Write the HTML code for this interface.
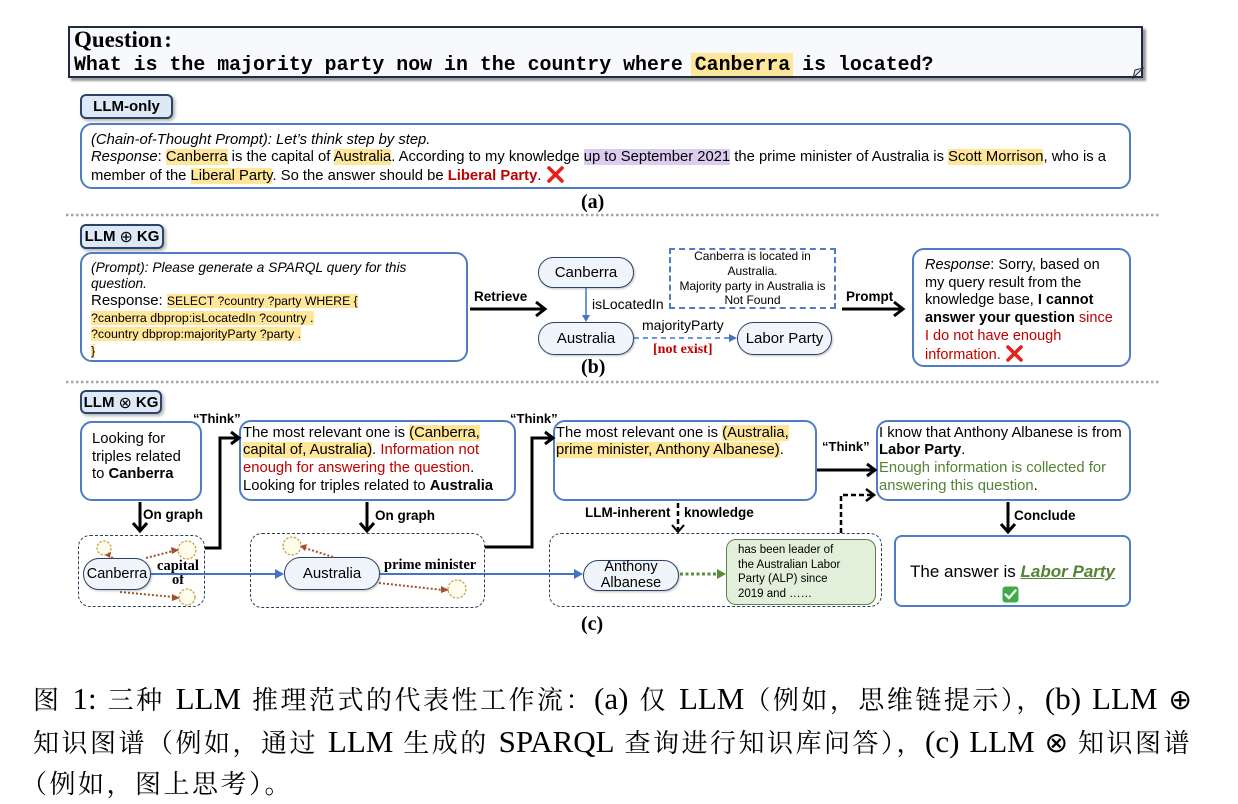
<!DOCTYPE html>
<html><head><meta charset="utf-8">
<style>
html,body{margin:0;padding:0;background:#fff;}
#pg{position:relative;width:1238px;height:804px;overflow:hidden;background:#fff;}
.t{position:absolute;white-space:nowrap;font-family:"Liberation Sans",Arial,sans-serif;color:#000;line-height:18px;font-size:14.8px;}
.box{position:absolute;box-sizing:border-box;border:2px solid #4e7cc6;border-radius:12px;background:#fff;}
.tag{position:absolute;box-sizing:border-box;border:2px solid #2c4467;border-radius:6px;background:#dde9f6;font-family:"Liberation Sans",Arial,sans-serif;font-weight:bold;font-size:15px;display:flex;align-items:center;justify-content:center;box-shadow:2px 2px 3px rgba(0,0,0,.3);}
.node{position:absolute;box-sizing:border-box;border:1.5px solid #2c4467;border-radius:17px;background:#f0f5fc;display:flex;align-items:center;justify-content:center;text-align:center;font-family:"Liberation Sans",Arial,sans-serif;font-size:15px;box-shadow:1px 1px 2px rgba(0,0,0,.25);}
.kg{position:absolute;box-sizing:border-box;border:1.5px dashed #2c3e5c;border-radius:12px;}
.hy{background:#ffe699;}
.hp{background:#dccdf0;}
.red{color:#c00000;}
.grn{color:#548235;}
.lbl{position:absolute;white-space:nowrap;font-family:"Liberation Sans",Arial,sans-serif;font-weight:bold;font-size:13.5px;line-height:16px;}
.ser{position:absolute;white-space:nowrap;font-family:"Liberation Serif","Times New Roman",serif;font-weight:bold;}
.cap{position:absolute;left:33px;width:1159px;height:43px;display:flex;justify-content:space-between;align-items:baseline;white-space:nowrap;font-family:"Liberation Serif","Noto Serif CJK SC",serif;font-size:26px;letter-spacing:2.5px;line-height:43px;color:#000;}
.cap .L{font-size:31px;letter-spacing:0;}
.cap .S{font-family:"DejaVu Sans",sans-serif;font-size:28px;font-weight:300;letter-spacing:0;}
</style></head><body><div id="pg">

<!-- Question box -->
<div style="position:absolute;left:68px;top:26px;width:1075px;height:52px;box-sizing:border-box;border:2px solid #1e2b45;background:#f8f9fc;box-shadow:3px 3px 2px rgba(0,0,0,.4);"></div>
<div class="ser" style="left:74px;top:27px;font-size:23px;line-height:26px;">Question<span style="margin-left:2px;">:</span></div>
<div style="position:absolute;left:74px;top:54px;white-space:nowrap;font-family:'Liberation Mono','Courier New',monospace;font-weight:bold;font-size:19.9px;line-height:22px;">What is the majority party now in the country where <span style="background:#fde59a;box-shadow:-4px 0 0 #fde59a,3px 0 0 #fde59a;">Canberra</span> is located?</div>

<!-- (a) -->
<div class="tag" style="left:80px;top:94px;width:93px;height:25px;">LLM-only</div>
<div class="box" style="left:80px;top:123px;width:1051px;height:66px;"></div>
<div class="t" style="left:91px;top:131px;font-size:14.8px;"><i>(Chain-of-Thought Prompt): Let’s think step by step.</i></div>
<div class="t" style="left:91px;top:148px;font-size:14.8px;"><i>Response</i>: <span class="hy">Canberra</span> is the capital of <span class="hy">Australia</span>. According to my knowledge <span class="hp">up to September 2021</span> the prime minister of Australia is <span class="hy">Scott Morrison</span>, who is a</div>
<div class="t" style="left:91px;top:166px;font-size:14.8px;">member of the <span class="hy">Liberal Party</span>. So the answer should be <b class="red">Liberal Party</b>. <svg width="19" height="17" viewBox="0 0 19 17" style="vertical-align:-3px"><path d="M3 2L16 15M16 2L3 15" stroke="#e8201c" stroke-width="3.6" stroke-linecap="round"/></svg></div>
<div class="ser" style="left:581px;top:190px;font-size:20px;line-height:24px;">(a)</div>

<!-- (b) -->
<div class="tag" style="left:80px;top:224px;width:84px;height:25px;">LLM <span style="font-weight:normal;font-family:'DejaVu Sans',sans-serif;margin:0 4px;font-size:16px;">⊕</span> KG</div>
<div class="box" style="left:80px;top:252px;width:388px;height:110px;"></div>
<div class="t" style="left:91px;top:259px;font-size:13.8px;"><i>(Prompt): Please generate a SPARQL query for this</i></div>
<div class="t" style="left:91px;top:275px;font-size:13.8px;"><i>question.</i></div>
<div class="t" style="left:91px;top:292px;font-size:15px;">Response: <span class="hy" style="font-size:12.2px;">SELECT ?country ?party WHERE {</span></div>
<div class="t" style="left:91px;top:309px;font-size:12.4px;"><span class="hy">?canberra dbprop:isLocatedIn ?country .</span></div>
<div class="t" style="left:91px;top:325px;font-size:12.4px;"><span class="hy">?country dbprop:majorityParty ?party .</span></div>
<div class="t" style="left:91px;top:342px;font-size:12.4px;"><span class="hy">}</span></div>

<div class="lbl" style="left:474px;top:289px;">Retrieve</div>
<div class="node" style="left:538px;top:257px;width:96px;height:31px;">Canberra</div>
<div class="node" style="left:538px;top:322px;width:96px;height:33px;">Australia</div>
<div class="node" style="left:737px;top:322px;width:95px;height:33px;">Labor Party</div>
<div class="t" style="left:592px;top:295px;font-size:14px;">isLocatedIn</div>
<div class="t" style="left:642px;top:316px;font-size:14px;">majorityParty</div>
<div class="ser red" style="left:653px;top:341px;font-size:14px;line-height:18px;">[not exist]</div>
<div style="position:absolute;left:669px;top:248px;width:167px;height:61px;box-sizing:border-box;border:2px dashed #4e7cc6;"></div>
<div class="t" style="left:669px;width:167px;text-align:center;top:249px;font-size:12px;line-height:14.8px;">Canberra is located in<br>Australia.<br>Majority party in Australia is<br>Not Found</div>
<div class="lbl" style="left:846px;top:289px;">Prompt</div>
<div class="box" style="left:912px;top:248px;width:219px;height:119px;"></div>
<div class="t" style="left:925px;top:256px;font-size:14.5px;"><i>Response</i>: Sorry, based on</div>
<div class="t" style="left:925px;top:274px;font-size:14.5px;">my query result from the</div>
<div class="t" style="left:925px;top:291px;font-size:14.5px;">knowledge base, <b>I cannot</b></div>
<div class="t" style="left:925px;top:309px;font-size:14.5px;"><b>answer your question</b> <span class="red">since</span></div>
<div class="t" style="left:925px;top:327px;font-size:14.5px;"><span class="red">I do not have enough</span></div>
<div class="t" style="left:925px;top:345px;font-size:14.5px;"><span class="red">information.</span> <svg width="19" height="17" viewBox="0 0 19 17" style="vertical-align:-3px"><path d="M3 2L16 15M16 2L3 15" stroke="#e8201c" stroke-width="3.6" stroke-linecap="round"/></svg></div>
<div class="ser" style="left:581px;top:355px;font-size:20px;line-height:24px;">(b)</div>

<!-- (c) -->
<div class="tag" style="left:80px;top:390px;width:82px;height:24px;">LLM <span style="font-weight:normal;font-family:'DejaVu Sans',sans-serif;margin:0 4px;font-size:16px;">⊗</span> KG</div>
<div class="box" style="left:80px;top:421px;width:122px;height:80px;"></div>
<div class="t" style="left:92px;top:430px;">Looking for</div>
<div class="t" style="left:92px;top:448px;">triples related</div>
<div class="t" style="left:92px;top:465px;">to <b>Canberra</b></div>

<div class="lbl" style="left:193px;top:411px;font-size:13px;">“Think”</div>
<div class="box" style="left:239px;top:420px;width:277px;height:81px;"></div>
<div class="t" style="left:243px;top:424px;">The most relevant one is <span class="hy">(Canberra,</span></div>
<div class="t" style="left:243px;top:441px;"><span class="hy">capital of, Australia)</span>. <span class="red">Information not</span></div>
<div class="t" style="left:243px;top:459px;"><span class="red">enough for answering the question</span>.</div>
<div class="t" style="left:243px;top:477px;">Looking for triples related to <b>Australia</b></div>

<div class="lbl" style="left:510px;top:411px;font-size:13px;">“Think”</div>
<div class="box" style="left:553px;top:420px;width:264px;height:81px;"></div>
<div class="t" style="left:556px;top:424px;">The most relevant one is <span class="hy">(Australia,</span></div>
<div class="t" style="left:556px;top:441px;"><span class="hy">prime minister, Anthony Albanese)</span>.</div>

<div class="lbl" style="left:822px;top:439px;font-size:13px;">“Think”</div>
<div class="box" style="left:876px;top:420px;width:255px;height:81px;"></div>
<div class="t" style="left:879px;top:424px;">I know that Anthony Albanese is from</div>
<div class="t" style="left:879px;top:441px;"><b>Labor Party</b>.</div>
<div class="t grn" style="left:879px;top:459px;">Enough information is collected for</div>
<div class="t" style="left:879px;top:477px;"><span class="grn">answering this question</span>.</div>

<div class="lbl" style="left:143px;top:507px;">On graph</div>
<div class="lbl" style="left:375px;top:508px;">On graph</div>
<div class="lbl" style="left:585px;top:505px;">LLM-inherent</div>
<div class="lbl" style="left:684px;top:505px;">knowledge</div>
<div class="lbl" style="left:1014px;top:508px;">Conclude</div>

<div class="kg" style="left:78px;top:535px;width:127px;height:72px;"></div>
<div class="kg" style="left:250px;top:533px;width:235px;height:75px;"></div>
<div class="kg" style="left:549px;top:533px;width:333px;height:74px;"></div>

<div class="node" style="left:83px;top:558px;width:68px;height:32px;font-size:14.5px;">Canberra</div>
<div class="node" style="left:284px;top:557px;width:96px;height:33px;">Australia</div>
<div class="node" style="left:583px;top:560px;width:96px;height:31px;font-size:14.5px;line-height:15.5px;">Anthony<br>Albanese</div>
<div class="ser" style="left:155px;top:559px;font-size:14.5px;line-height:14px;text-align:center;width:46px;">capital<br>of</div>
<div class="ser" style="left:384px;top:557px;font-size:14.5px;line-height:16px;">prime minister</div>

<div style="position:absolute;left:726px;top:539px;width:150px;height:66px;box-sizing:border-box;border:1.5px solid #5f7f4c;border-radius:10px;background:#e2efda;"></div>
<div class="t" style="left:738px;top:543px;font-size:11.5px;line-height:14.6px;">has been leader of<br>the Australian Labor<br>Party (ALP) since<br>2019 and ……</div>

<div class="box" style="left:894px;top:535px;width:237px;height:72px;border-radius:8px;"></div>
<div class="t" style="left:894px;width:237px;text-align:center;top:562px;font-size:17px;line-height:20px;">The answer is <b><i><u class="grn">Labor Party</u></i></b></div>
<svg style="position:absolute;left:1002px;top:586px;" width="17" height="17" viewBox="0 0 17 17"><rect x="0.5" y="0.5" width="16" height="16" rx="3" fill="#3faa48"/><path d="M3.5 8.5L7 12L13.5 4.5" stroke="#fff" stroke-width="2.4" fill="none" stroke-linecap="round" stroke-linejoin="round"/></svg>
<div class="ser" style="left:581px;top:612px;font-size:20px;line-height:24px;">(c)</div>

<!-- connectors -->
<svg style="position:absolute;left:0;top:0;" width="1238" height="804" viewBox="0 0 1238 804">
<g fill="none">
<line x1="66" y1="215" x2="1160" y2="215" stroke="#a6a6a6" stroke-width="2.5" stroke-dasharray="2.5 2.5"/>
<line x1="66" y1="382" x2="1160" y2="382" stroke="#a6a6a6" stroke-width="2.5" stroke-dasharray="2.5 2.5"/>
<path d="M1133 78 L1143 68 L1135 70 Z" fill="#dfe3ea" stroke="#1e2b45" stroke-width="1"/>
<!-- b arrows -->
<line x1="470" y1="309" x2="544" y2="309" stroke="#000" stroke-width="3"/>
<polyline points="536,302 545,309 536,316" stroke="#000" stroke-width="3"/>
<line x1="842" y1="309" x2="902" y2="309" stroke="#000" stroke-width="3"/>
<polyline points="894,302 903,309 894,316" stroke="#000" stroke-width="3"/>
<line x1="586" y1="288" x2="586" y2="316" stroke="#4472c4" stroke-width="1.5"/>
<polygon points="582,315 590,315 586,322" fill="#4472c4"/>
<line x1="634" y1="338" x2="730" y2="338" stroke="#4472c4" stroke-width="1.5" stroke-dasharray="5 4"/>
<polygon points="729,334 729,342 737,338" fill="#4472c4"/>
<!-- c arrows -->
<line x1="140" y1="502" x2="140" y2="530" stroke="#000" stroke-width="3"/>
<polyline points="133,523 140,531 147,523" stroke="#000" stroke-width="3"/>
<line x1="367" y1="502" x2="367" y2="530" stroke="#000" stroke-width="3"/>
<polyline points="360,523 367,531 374,523" stroke="#000" stroke-width="3"/>
<line x1="678" y1="503" x2="678" y2="530" stroke="#000" stroke-width="2.5" stroke-dasharray="5 3"/>
<polyline points="672,525 678,532 684,525" stroke="#000" stroke-width="2"/>
<line x1="1008" y1="502" x2="1008" y2="531" stroke="#000" stroke-width="3"/>
<polyline points="1001,524 1008,532 1015,524" stroke="#000" stroke-width="3"/>
<polyline points="841,533 841,495 872,495" stroke="#000" stroke-width="2.5" stroke-dasharray="5 3"/>
<polyline points="866,489 874,495 866,501" stroke="#000" stroke-width="2.5"/>
<polyline points="205,548 220,548 220,438 237,438" stroke="#000" stroke-width="3"/>
<polyline points="231,432 239,438 231,444" stroke="#000" stroke-width="3"/>
<polyline points="485,547 532,547 532,438 551,438" stroke="#000" stroke-width="3"/>
<polyline points="545,432 553,438 545,444" stroke="#000" stroke-width="3"/>
<line x1="817" y1="470" x2="873" y2="470" stroke="#000" stroke-width="3"/>
<polyline points="867,464 875,470 867,476" stroke="#000" stroke-width="3"/>
<!-- KG blue -->
<line x1="151" y1="574" x2="278" y2="574" stroke="#4472c4" stroke-width="2"/>
<polygon points="275,569 275,579 284,574" fill="#4472c4"/>
<line x1="380" y1="574" x2="577" y2="574" stroke="#4472c4" stroke-width="2"/>
<polygon points="574,569 574,579 583,574" fill="#4472c4"/>
<line x1="680" y1="574" x2="718" y2="574" stroke="#5b8c3a" stroke-width="3" stroke-dasharray="3 2.5"/>
<polygon points="717,569 717,579 726,574" fill="#5b8c3a"/>
<!-- small nodes -->
<g fill="#fffcec" stroke="#c2a650" stroke-width="1.3" stroke-dasharray="2.5 1.5">
<circle cx="104" cy="548" r="7"/>
<circle cx="187" cy="550" r="9"/>
<circle cx="187" cy="597" r="8"/>
<circle cx="292" cy="546" r="9"/>
<circle cx="457" cy="589" r="9"/>
</g>
<g stroke="#a0522d" stroke-width="2" stroke-dasharray="2 2">
<line x1="113" y1="558" x2="109" y2="556"/>
<line x1="146" y1="558" x2="173" y2="551"/>
<line x1="120" y1="592" x2="174" y2="597"/>
<line x1="333" y1="557" x2="305" y2="548"/>
<line x1="379" y1="583" x2="443" y2="590"/>
</g>
<g fill="#a0522d">
<polygon points="105,555 111,552 110,558"/>
<polygon points="179,550 171,547 172,554"/>
<polygon points="180,598 172,594 172,601"/>
<polygon points="300,546 307,544 305,551"/>
<polygon points="449,590 441,586 441,593"/>
</g>
</g>
</svg>

<!-- caption -->
<div class="cap" style="top:677px;"><span>图</span><span class="L">1:</span><span>三种</span><span class="L">LLM</span><span>推理范式的代表性工作流：<span class="L">(a)</span></span><span>仅</span><span><span class="L">LLM</span>（例如，思维链提示），<span class="L">(b)</span></span><span class="L">LLM</span><span class="S">⊕</span></div>
<div class="cap" style="top:720px;"><span>知识图谱（例如，通过</span><span class="L">LLM</span><span>生成的</span><span class="L">SPARQL</span><span>查询进行知识库问答），<span class="L">(c)</span></span><span class="L">LLM</span><span class="S">⊗</span><span>知识图谱</span></div>
<div class="cap" style="top:763px;left:21px;justify-content:flex-start;"><span>（例如，图上思考）。</span></div>

</div></body></html>
